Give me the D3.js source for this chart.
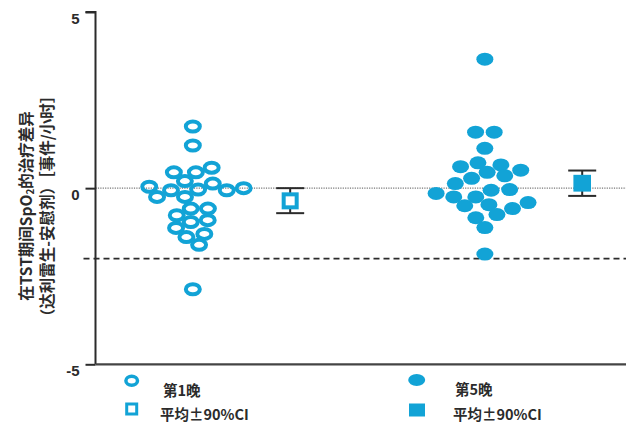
<!DOCTYPE html>
<html>
<head>
<meta charset="utf-8">
<script src="https://cdn.jsdelivr.net/npm/d3@7"></script>
<style>
  body { margin: 0; background: #fff; }
  svg { display: block; font-family: "Noto Sans CJK SC", "Noto Sans", sans-serif; }
  .weak { stroke: #777; }
</style>
</head>
<body>
<div id="chart"></div>
<script>
// values (events/hour)
const nightLabels = ["第1晚", "第5晚"];
const meanLabel = "平均±90%CI";
const night1 = [1.75, 1.21, 0.58, 0.45, 0.45, 0.2, 0.13, 0.04, 0.0, -0.04, -0.06, -0.06,
                -0.25, -0.25, -0.58, -0.58, -0.77, -0.91, -0.96, -1.13, -1.3, -1.39, -1.61, -2.87];
const night5 = [3.66, 1.59, 1.59, 1.13, 0.72, 0.66, 0.61, 0.51, 0.45, 0.35, 0.28, 0.13,
                -0.04, -0.06, -0.15, -0.25, -0.25, -0.41, -0.47, -0.5, -0.58, -0.75, -0.84, -1.12, -1.87];
const means = [-0.36, 0.14];
const ciLow = [-0.71, -0.22];
const ciHigh = [0.0, 0.5];
const yTicks = [-5, 0, 5];
const zeroLine = 0;
const thresholdLine = -2;
const yTitle = ["在TST期间SpO", "2", "的治疗差异"];
const yTitle2 = "（达利雷生-安慰剂）［事件/小时］";

const width = 626, height = 442;
const blue = "#12a3d6", ink = "#2b2b2b";

let svg = d3.select("#chart").append("svg")
    .attr("width", width)
    .attr("height", height);

// x positions: 1 = night 1 dots, 2 = its mean, 4 = night 5 dots, 5 = its mean
let x = d3.scaleLinear().domain([0, 5.45]).range([95.5, 626]);
let y = d3.scaleLinear().domain([-5, 5]).range([364.3, 12]);

// reference lines
svg.append("line")
    .attr("class", "weak")
    .attr("x1", x(0)).attr("x2", width)
    .attr("y1", y(zeroLine)).attr("y2", y(zeroLine))
    .attr("stroke-width", 1.2)
    .attr("stroke-dasharray", "1.2,1.2");
svg.append("line")
    .attr("x1", x(0) - 12).attr("x2", width)
    .attr("y1", y(thresholdLine)).attr("y2", y(thresholdLine))
    .attr("stroke", ink)
    .attr("stroke-width", 1.6)
    .attr("stroke-dasharray", "6,4");

// axes
let leftAxis = d3.axisLeft(y).tickValues(yTicks).tickSize(10).tickPadding(6)
    .tickFormat(d3.format("d"));
let gy = svg.append("g")
    .attr("transform", "translate(" + x(0) + ",0)")
    .call(leftAxis);
gy.select(".domain").attr("d", "M-10," + y(5) + "H0V" + y(-5))
    .attr("stroke", ink).attr("stroke-width", 2);
gy.selectAll(".tick line").attr("stroke", ink).attr("stroke-width", 2);
gy.selectAll(".tick text")
    .attr("fill", ink)
    .attr("font-size", 15)
    .attr("font-weight", "bold")
    .attr("dy", "0.75em")
    .text(d => d < 0 ? "-" + Math.abs(d) : d);
svg.append("line")
    .attr("x1", x(0)).attr("x2", width)
    .attr("y1", y(-5)).attr("y2", y(-5))
    .attr("stroke", "#444")
    .attr("stroke-width", 2.2);

// y title, two rotated lines
let title = svg.append("g")
    .attr("transform", "translate(0," + 206 + ") rotate(-90)")
    .attr("font-size", 15.5)
    .attr("font-weight", "bold")
    .attr("fill", ink)
    .attr("text-anchor", "middle");
let t1 = title.append("text").attr("x", 0).attr("y", 25).attr("dominant-baseline", "central");
t1.append("tspan").text(yTitle[0]);
t1.append("tspan").attr("font-size", 10).attr("dy", 4).text(yTitle[1]);
t1.append("tspan").attr("dy", -4).text(yTitle[2]);
title.append("text").attr("x", 0).attr("y", 46).attr("dominant-baseline", "central").text(yTitle2);

// beeswarm: y stays on the value, a force sim spreads x; y is stretched so
// the round collide acts like an ellipse (wider than tall)
function swarm(values, centre, r, stretch) {
    let nodes = values.map(v => ({ v: v, x: centre, fy: y(v) * stretch }));
    let sim = d3.forceSimulation(nodes)
        .force("x", d3.forceX(centre).strength(0.08))
        .force("collide", d3.forceCollide(r).iterations(3))
        .stop();
    for (let i = 0; i < 400; ++i) sim.tick();
    nodes.forEach(n => { n.y = y(n.v); });
    return nodes;
}

let pts1 = swarm(night1, x(1), 8.6, 1.5);
let pts5 = swarm(night5, x(4), 9.3, 1.7);

// whiskers behind mean squares
const meanX = [x(2), x(5)];
[0, 1].forEach(i => {
    let g = svg.append("g").attr("stroke", ink).attr("stroke-width", 2);
    g.append("line").attr("x1", meanX[i]).attr("x2", meanX[i])
        .attr("y1", y(ciLow[i])).attr("y2", y(ciHigh[i]));
    [ciLow[i], ciHigh[i]].forEach(v => {
        g.append("line").attr("x1", meanX[i] - 14).attr("x2", meanX[i] + 14)
            .attr("y1", y(v)).attr("y2", y(v));
    });
});

svg.append("g").selectAll("ellipse")
    .data(pts1)
    .join("ellipse")
    .attr("cx", d => d.x).attr("cy", d => d.y)
    .attr("rx", 7).attr("ry", 5)
    .attr("fill", "none")
    .attr("stroke", blue)
    .attr("stroke-width", 4);

svg.append("g").selectAll("ellipse")
    .data(pts5)
    .join("ellipse")
    .attr("cx", d => d.x).attr("cy", d => d.y)
    .attr("rx", 8.5).attr("ry", 6.5)
    .attr("fill", blue);

// means
svg.append("rect")
    .attr("x", meanX[0] - 6.5).attr("y", y(means[0]) - 6.5)
    .attr("width", 13).attr("height", 13)
    .attr("fill", "#fff").attr("stroke", blue).attr("stroke-width", 4);
svg.append("rect")
    .attr("x", meanX[1] - 8.8).attr("y", y(means[1]) - 8.4)
    .attr("width", 17.6).attr("height", 16.8)
    .attr("fill", blue);

// legend
let legend = svg.append("g")
    .attr("font-size", 14.5)
    .attr("font-weight", "bold")
    .attr("fill", ink);
legend.append("ellipse").attr("cx", 131.7).attr("cy", 380.7).attr("rx", 5.8).attr("ry", 4.5)
    .attr("fill", "none").attr("stroke", blue).attr("stroke-width", 3.5);
legend.append("rect").attr("x", 126.7).attr("y", 404).attr("width", 10).attr("height", 10)
    .attr("fill", "none").attr("stroke", blue).attr("stroke-width", 3);
legend.append("ellipse").attr("cx", 416.7).attr("cy", 380).attr("rx", 8.5).attr("ry", 6)
    .attr("fill", blue);
legend.append("rect").attr("x", 409).attr("y", 403.5).attr("width", 16).attr("height", 13)
    .attr("fill", blue);
legend.append("text").attr("x", 163).attr("y", 389).attr("dominant-baseline", "central").text(nightLabels[0]);
legend.append("text").attr("x", 160).attr("y", 413).attr("dominant-baseline", "central").text(meanLabel);
legend.append("text").attr("x", 455).attr("y", 388).attr("dominant-baseline", "central").text(nightLabels[1]);
legend.append("text").attr("x", 453).attr("y", 413).attr("dominant-baseline", "central").text(meanLabel);
</script>
</body>
</html>
